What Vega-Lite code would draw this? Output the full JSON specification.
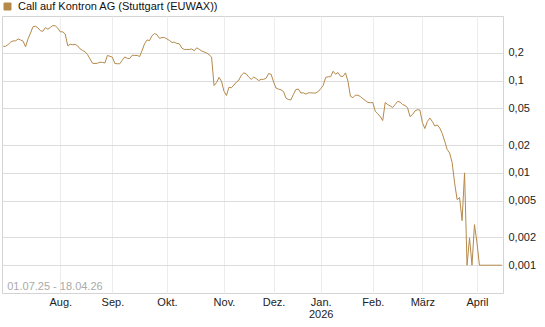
{
  "$schema": "https://vega.github.io/schema/vega-lite/v6.json",
  "width": 501,
  "height": 277,
  "autosize": {"type": "none"},
  "padding": {"left": 2, "top": 16, "right": 42, "bottom": 34},
  "background": "white",
  "config": {"font": "Liberation Sans", "view": {"stroke": "#d4d4d4", "strokeWidth": 1}},
  "datasets": {
    "prices": [
      {"d":"2025-07-01","v":0.235},{"d":"2025-07-02","v":0.235},{"d":"2025-07-03","v":0.246},{"d":"2025-07-04","v":0.261},
      {"d":"2025-07-07","v":0.269},{"d":"2025-07-08","v":0.269},{"d":"2025-07-09","v":0.282},{"d":"2025-07-10","v":0.275},{"d":"2025-07-11","v":0.267},
      {"d":"2025-07-14","v":0.232},{"d":"2025-07-15","v":0.283},{"d":"2025-07-16","v":0.327},{"d":"2025-07-17","v":0.383},{"d":"2025-07-18","v":0.388},
      {"d":"2025-07-21","v":0.371},{"d":"2025-07-22","v":0.346},{"d":"2025-07-23","v":0.342},{"d":"2025-07-24","v":0.375},{"d":"2025-07-25","v":0.360},
      {"d":"2025-07-28","v":0.376},{"d":"2025-07-29","v":0.394},{"d":"2025-07-30","v":0.391},{"d":"2025-07-31","v":0.369},
      {"d":"2025-08-01","v":0.337},{"d":"2025-08-04","v":0.337},{"d":"2025-08-05","v":0.319},{"d":"2025-08-06","v":0.238},{"d":"2025-08-07","v":0.247},{"d":"2025-08-08","v":0.244},
      {"d":"2025-08-11","v":0.247},{"d":"2025-08-12","v":0.237},{"d":"2025-08-13","v":0.220},{"d":"2025-08-14","v":0.212},{"d":"2025-08-15","v":0.205},
      {"d":"2025-08-18","v":0.191},{"d":"2025-08-19","v":0.171},{"d":"2025-08-20","v":0.154},{"d":"2025-08-21","v":0.153},{"d":"2025-08-22","v":0.154},
      {"d":"2025-08-25","v":0.158},{"d":"2025-08-26","v":0.157},{"d":"2025-08-27","v":0.155},{"d":"2025-08-28","v":0.187},{"d":"2025-08-29","v":0.183},
      {"d":"2025-09-01","v":0.179},{"d":"2025-09-02","v":0.153},{"d":"2025-09-03","v":0.152},{"d":"2025-09-04","v":0.152},{"d":"2025-09-05","v":0.166},
      {"d":"2025-09-08","v":0.180},{"d":"2025-09-09","v":0.174},{"d":"2025-09-10","v":0.173},{"d":"2025-09-11","v":0.188},{"d":"2025-09-12","v":0.187},
      {"d":"2025-09-15","v":0.187},{"d":"2025-09-16","v":0.182},{"d":"2025-09-17","v":0.212},{"d":"2025-09-18","v":0.251},{"d":"2025-09-19","v":0.275},
      {"d":"2025-09-22","v":0.271},{"d":"2025-09-23","v":0.306},{"d":"2025-09-24","v":0.323},{"d":"2025-09-25","v":0.313},{"d":"2025-09-26","v":0.286},
      {"d":"2025-09-29","v":0.292},{"d":"2025-09-30","v":0.292},
      {"d":"2025-10-01","v":0.282},{"d":"2025-10-02","v":0.272},{"d":"2025-10-03","v":0.259},
      {"d":"2025-10-06","v":0.260},{"d":"2025-10-07","v":0.252},{"d":"2025-10-08","v":0.250},{"d":"2025-10-09","v":0.225},{"d":"2025-10-10","v":0.217},
      {"d":"2025-10-13","v":0.217},{"d":"2025-10-14","v":0.217},{"d":"2025-10-15","v":0.220},{"d":"2025-10-16","v":0.210},{"d":"2025-10-17","v":0.226},
      {"d":"2025-10-20","v":0.218},{"d":"2025-10-21","v":0.209},{"d":"2025-10-22","v":0.204},{"d":"2025-10-23","v":0.199},{"d":"2025-10-24","v":0.190},
      {"d":"2025-10-27","v":0.180},{"d":"2025-10-28","v":0.0883},{"d":"2025-10-29","v":0.0952},{"d":"2025-10-30","v":0.108},{"d":"2025-10-31","v":0.0983},
      {"d":"2025-11-03","v":0.0766},{"d":"2025-11-04","v":0.0688},{"d":"2025-11-05","v":0.0846},{"d":"2025-11-06","v":0.0834},{"d":"2025-11-07","v":0.0894},
      {"d":"2025-11-10","v":0.0962},{"d":"2025-11-11","v":0.101},{"d":"2025-11-12","v":0.114},{"d":"2025-11-13","v":0.121},{"d":"2025-11-14","v":0.118},
      {"d":"2025-11-17","v":0.109},{"d":"2025-11-18","v":0.103},{"d":"2025-11-19","v":0.109},{"d":"2025-11-20","v":0.105},{"d":"2025-11-21","v":0.100},
      {"d":"2025-11-24","v":0.103},{"d":"2025-11-25","v":0.103},{"d":"2025-11-26","v":0.106},{"d":"2025-11-27","v":0.119},{"d":"2025-11-28","v":0.117},
      {"d":"2025-12-01","v":0.0966},{"d":"2025-12-02","v":0.0828},{"d":"2025-12-03","v":0.0807},{"d":"2025-12-04","v":0.0793},{"d":"2025-12-05","v":0.0760},
      {"d":"2025-12-08","v":0.0645},{"d":"2025-12-09","v":0.0623},{"d":"2025-12-10","v":0.0618},{"d":"2025-12-11","v":0.0709},{"d":"2025-12-12","v":0.0799},
      {"d":"2025-12-15","v":0.0809},{"d":"2025-12-16","v":0.0732},{"d":"2025-12-17","v":0.0736},{"d":"2025-12-18","v":0.0713},{"d":"2025-12-19","v":0.0736},
      {"d":"2025-12-22","v":0.0736},{"d":"2025-12-23","v":0.0732},{"d":"2025-12-29","v":0.0732},{"d":"2025-12-30","v":0.0760},
      {"d":"2026-01-02","v":0.0818},{"d":"2026-01-05","v":0.0885},{"d":"2026-01-06","v":0.108},{"d":"2026-01-07","v":0.110},{"d":"2026-01-08","v":0.110},{"d":"2026-01-09","v":0.126},
      {"d":"2026-01-12","v":0.117},{"d":"2026-01-13","v":0.122},{"d":"2026-01-14","v":0.111},{"d":"2026-01-15","v":0.111},{"d":"2026-01-16","v":0.121},
      {"d":"2026-01-19","v":0.0976},{"d":"2026-01-20","v":0.0675},{"d":"2026-01-21","v":0.0651},{"d":"2026-01-22","v":0.0695},{"d":"2026-01-23","v":0.0693},
      {"d":"2026-01-26","v":0.0671},{"d":"2026-01-27","v":0.0635},{"d":"2026-01-28","v":0.0607},{"d":"2026-01-29","v":0.0581},{"d":"2026-01-30","v":0.0575},
      {"d":"2026-02-02","v":0.0578},{"d":"2026-02-03","v":0.0464},{"d":"2026-02-04","v":0.0436},{"d":"2026-02-05","v":0.0407},{"d":"2026-02-06","v":0.0369},
      {"d":"2026-02-09","v":0.0578},{"d":"2026-02-10","v":0.0549},{"d":"2026-02-11","v":0.0531},{"d":"2026-02-12","v":0.0511},{"d":"2026-02-13","v":0.0549},
      {"d":"2026-02-16","v":0.0593},{"d":"2026-02-17","v":0.0585},{"d":"2026-02-18","v":0.0551},{"d":"2026-02-19","v":0.0536},{"d":"2026-02-20","v":0.0510},
      {"d":"2026-02-23","v":0.0407},{"d":"2026-02-24","v":0.0428},{"d":"2026-02-25","v":0.0468},{"d":"2026-02-26","v":0.0484},{"d":"2026-02-27","v":0.0478},
      {"d":"2026-03-02","v":0.0351},{"d":"2026-03-03","v":0.0302},{"d":"2026-03-04","v":0.0360},{"d":"2026-03-05","v":0.0393},{"d":"2026-03-06","v":0.0360},
      {"d":"2026-03-09","v":0.0322},{"d":"2026-03-10","v":0.0330},{"d":"2026-03-11","v":0.0306},{"d":"2026-03-12","v":0.0267},{"d":"2026-03-13","v":0.0220},
      {"d":"2026-03-16","v":0.0179},{"d":"2026-03-17","v":0.0164},{"d":"2026-03-18","v":0.0129},{"d":"2026-03-19","v":0.00774},{"d":"2026-03-20","v":0.00514},
      {"d":"2026-03-23","v":0.00540},{"d":"2026-03-24","v":0.00304},{"d":"2026-03-25","v":0.0100},{"d":"2026-03-26","v":0.0010},{"d":"2026-03-27","v":0.00198},
      {"d":"2026-03-30","v":0.0010},{"d":"2026-03-31","v":0.00275},
      {"d":"2026-04-01","v":0.00176},{"d":"2026-04-02","v":0.0010},
      {"d":"2026-04-07","v":0.0010},{"d":"2026-04-08","v":0.0010},{"d":"2026-04-09","v":0.0010},{"d":"2026-04-10","v":0.0010},
      {"d":"2026-04-13","v":0.0010},{"d":"2026-04-14","v":0.0010},{"d":"2026-04-15","v":0.0010},{"d":"2026-04-16","v":0.0010},{"d":"2026-04-17","v":0.0010}
    ]
  },
  "layer": [
    {
      "data": {"name": "prices"},
      "mark": {"type": "line", "strokeWidth": 1, "interpolate": "linear"},
      "encoding": {
        "x": {
          "field": "d",
          "type": "ordinal",
          "scale": {"type": "point", "padding": 0.5},
          "axis": {
            "title": null,
            "values": ["2025-08-01","2025-09-01","2025-10-01","2025-11-03","2025-12-01","2026-01-02","2026-02-02","2026-03-02","2026-04-01"],
            "labelExpr": "substring(datum.value,5,7) == '01' ? ['Jan.', substring(datum.value,0,4)] : ['Jan.','Feb.','März','April','Mai','Juni','Juli','Aug.','Sep.','Okt.','Nov.','Dez.'][toNumber(substring(datum.value,5,7)) - 1]",
            "grid": true,
            "gridColor": "#ececec",
            "gridWidth": 1,
            "ticks": false,
            "domain": false,
            "labelAngle": 0,
            "labelPadding": 3,
            "labelFontSize": 11,
            "labelColor": "#222222",
            "labelLineHeight": 12,
            "labelOverlap": false
          }
        },
        "y": {
          "field": "v",
          "type": "quantitative",
          "scale": {"type": "log", "domain": [0.0005, 0.5], "nice": false},
          "axis": {
            "title": null,
            "orient": "right",
            "values": [0.001, 0.002, 0.005, 0.01, 0.02, 0.05, 0.1, 0.2],
            "labelExpr": "replace(toString(datum.value), '.', ',')",
            "grid": true,
            "gridColor": "#dcdcdc",
            "ticks": false,
            "domain": false,
            "labelPadding": 5,
            "labelFontSize": 11,
            "labelColor": "#222222"
          }
        },
        "color": {
          "datum": "Call auf Kontron AG  (Stuttgart (EUWAX))",
          "type": "nominal",
          "scale": {"range": ["#b5894a"]},
          "legend": {
            "title": null,
            "orient": "none",
            "legendX": 0,
            "legendY": -15,
            "padding": 0,
            "labelFontSize": 11,
            "labelColor": "#111111",
            "labelOffset": 5,
            "labelLimit": 400,
            "symbolType": "square",
            "symbolSize": 49,
            "encode": {
              "symbols": {
                "update": {
                  "fill": {"value": "#b5894a"},
                  "stroke": {"value": "#3a2c18"},
                  "strokeWidth": {"value": 1},
                  "shape": {"value": "square"},
                  "size": {"value": 49},
                  "opacity": {"value": 1}
                }
              }
            }
          }
        }
      }
    },
    {
      "data": {"values": [{"label": "01.07.25 - 18.04.26"}]},
      "mark": {"type": "text", "align": "left", "baseline": "middle", "dx": 4, "fontSize": 11, "color": "#aaaaaa"},
      "encoding": {
        "x": {"datum": "2025-07-01", "type": "ordinal"},
        "y": {"datum": 0.00058, "type": "quantitative"},
        "text": {"field": "label"}
      }
    }
  ]
}
